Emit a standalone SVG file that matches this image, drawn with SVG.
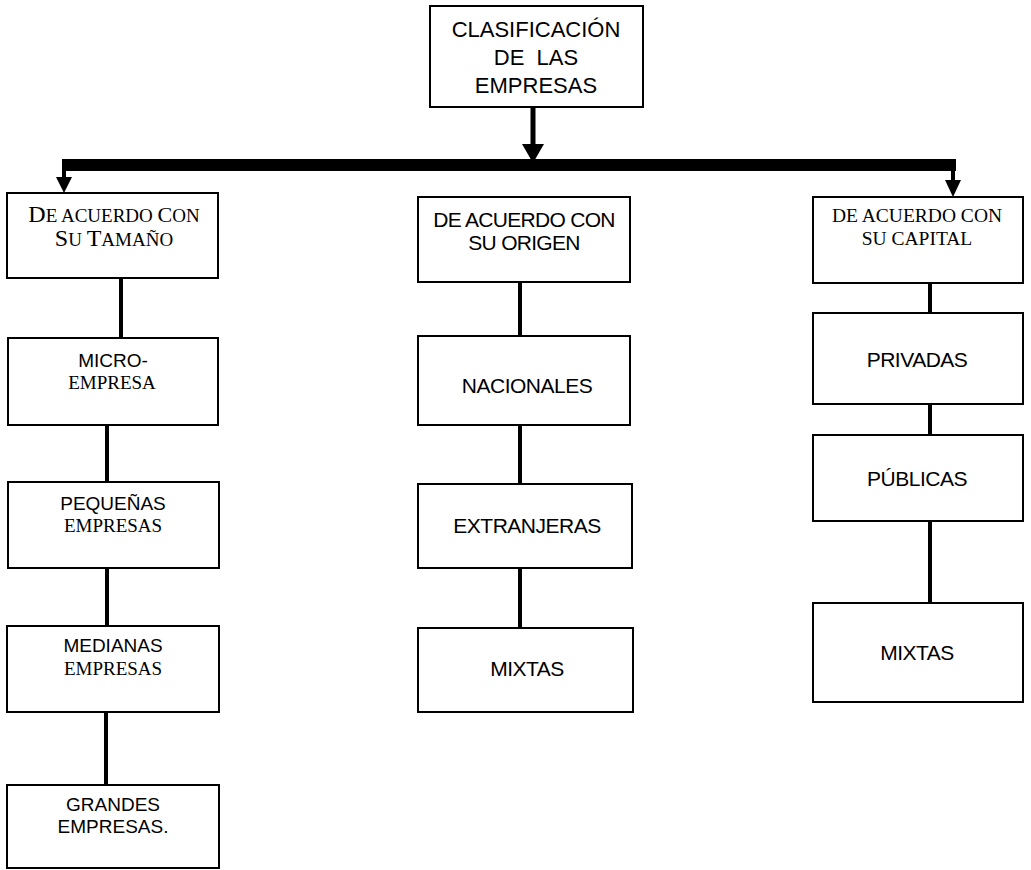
<svg xmlns="http://www.w3.org/2000/svg" width="1031" height="870" viewBox="0 0 1031 870">
<style>
.box{fill:#fff;stroke:#000;stroke-width:2}
.sans{font-family:"Liberation Sans",Arial,sans-serif;fill:#000;text-anchor:middle}
.serif{font-family:"Liberation Serif","Times New Roman",serif;fill:#000;text-anchor:middle}
.conn{stroke:#000;stroke-width:4;fill:none}
.bar{stroke:#000;stroke-width:12;fill:none}
.head{fill:#000}
</style>
<rect width="1031" height="870" fill="#fff"/>
<g id="connectors">
<line class="conn" x1="533" y1="107" x2="533" y2="150" style="stroke-width:5"/>
<polygon class="head" points="522,144 544,144 533,163"/>
<line class="bar" x1="62" y1="165" x2="956" y2="165"/>
<line x1="64" y1="165" x2="64" y2="182" stroke="#000" stroke-width="4"/>
<polygon class="head" points="56,177 72,177 64,193"/>
<line x1="953" y1="165" x2="953" y2="184" stroke="#000" stroke-width="4"/>
<polygon class="head" points="945,180 961,180 953,197"/>
<line class="conn" x1="121" y1="278" x2="121" y2="338"/>
<line class="conn" x1="107" y1="425" x2="107" y2="482"/>
<line class="conn" x1="107" y1="568" x2="107" y2="626"/>
<line class="conn" x1="106" y1="712" x2="106" y2="785"/>
<line class="conn" x1="520" y1="282" x2="520" y2="336"/>
<line class="conn" x1="520" y1="425" x2="520" y2="484"/>
<line class="conn" x1="520" y1="568" x2="520" y2="628"/>
<line class="conn" x1="930" y1="283" x2="930" y2="313"/>
<line class="conn" x1="930" y1="404" x2="930" y2="435"/>
<line class="conn" x1="930" y1="521" x2="930" y2="603"/>
</g>
<g id="root">
<rect class="box" x="430" y="6" width="213" height="101"/>
<text class="sans" font-size="22" x="536" y="37">CLASIFICACIÓN</text>
<text class="sans" font-size="22" x="536" y="65" word-spacing="6">DE LAS</text>
<text class="sans" font-size="22" x="536" y="93">EMPRESAS</text>
</g>
<g id="tamano">
<rect class="box" x="7" y="193" width="211" height="85"/>
<text class="serif" x="114" y="222" font-size="19"><tspan font-size="24">D</tspan>E ACUERDO <tspan font-size="22">C</tspan>ON</text>
<text class="serif" x="114" y="246" font-size="19"><tspan font-size="24">S</tspan>U <tspan font-size="24">T</tspan>AMAÑO</text>
</g>
<g id="origen">
<rect class="box" x="418" y="197" width="212" height="85"/>
<text class="sans" x="524" y="227" font-size="21" letter-spacing="-0.7">DE ACUERDO CON</text>
<text class="sans" x="524" y="250" font-size="21" letter-spacing="-0.7">SU ORIGEN</text>
</g>
<g id="capital">
<rect class="box" x="813" y="197" width="210" height="86"/>
<text class="serif" x="917" y="222" font-size="19.5">DE ACUERDO CON</text>
<text class="serif" x="917" y="245" font-size="19.5">SU CAPITAL</text>
</g>
<g id="micro">
<rect class="box" x="8" y="338" width="210" height="87"/>
<text class="sans" x="113" y="367" font-size="19">MICRO-</text>
<text class="serif" x="112" y="389" font-size="19">EMPRESA</text>
</g>
<g id="pequenas">
<rect class="box" x="8" y="482" width="211" height="86"/>
<text class="sans" x="113" y="510" font-size="19">PEQUEÑAS</text>
<text class="serif" x="113" y="532" font-size="19">EMPRESAS</text>
</g>
<g id="medianas">
<rect class="box" x="7" y="626" width="212" height="86"/>
<text class="sans" x="113" y="652" font-size="19">MEDIANAS</text>
<text class="serif" x="113" y="675" font-size="19">EMPRESAS</text>
</g>
<g id="grandes">
<rect class="box" x="7" y="785" width="212" height="83"/>
<text class="sans" x="113" y="811" font-size="19">GRANDES</text>
<text class="sans" x="113" y="833" font-size="19">EMPRESAS.</text>
</g>
<g id="nacionales">
<rect class="box" x="418" y="336" width="212" height="89"/>
<text class="sans" x="527" y="393" font-size="21" letter-spacing="-0.5">NACIONALES</text>
</g>
<g id="extranjeras">
<rect class="box" x="418" y="484" width="214" height="84"/>
<text class="sans" x="527" y="533" font-size="21" letter-spacing="-0.5">EXTRANJERAS</text>
</g>
<g id="mixtas-origen">
<rect class="box" x="418" y="628" width="215" height="84"/>
<text class="sans" x="527" y="676" font-size="21" letter-spacing="-0.5">MIXTAS</text>
</g>
<g id="privadas">
<rect class="box" x="813" y="313" width="210" height="91"/>
<text class="sans" x="917" y="367" font-size="21" letter-spacing="-0.5">PRIVADAS</text>
</g>
<g id="publicas">
<rect class="box" x="813" y="435" width="210" height="86"/>
<text class="sans" x="917" y="486" font-size="21" letter-spacing="-0.5">PÚBLICAS</text>
</g>
<g id="mixtas-capital">
<rect class="box" x="813" y="603" width="210" height="99"/>
<text class="sans" x="917" y="660" font-size="21" letter-spacing="-0.5">MIXTAS</text>
</g>
</svg>
